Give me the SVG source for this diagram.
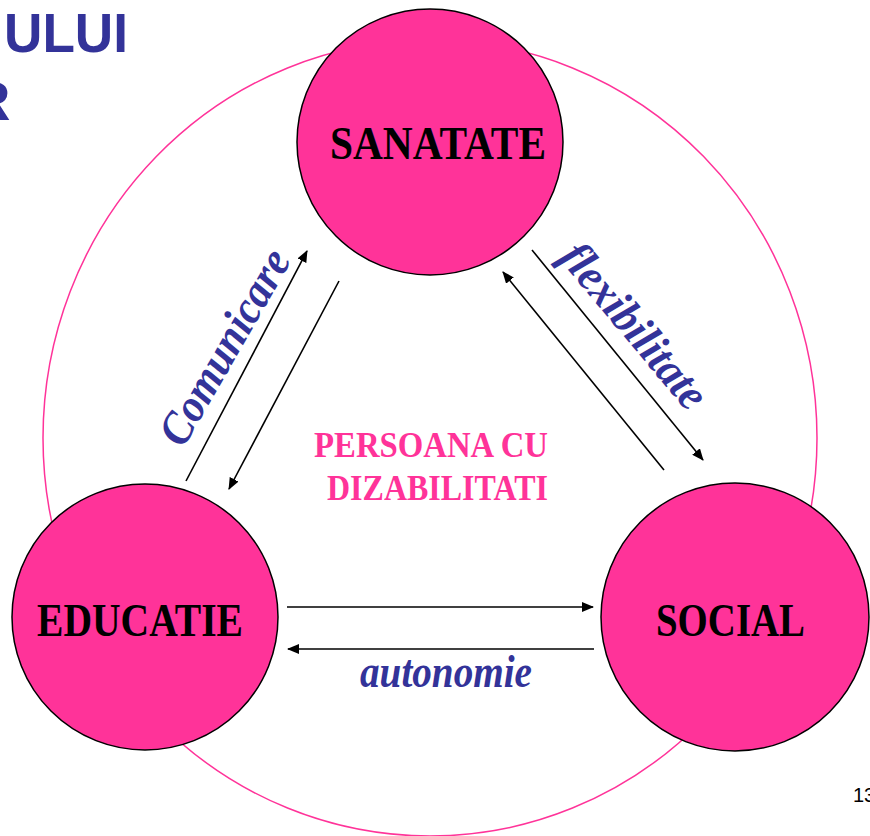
<svg xmlns="http://www.w3.org/2000/svg" width="870" height="836" viewBox="0 0 870 836">
  <defs>
    <marker id="ah" viewBox="0 0 12 10" refX="11" refY="5" markerWidth="12" markerHeight="10" markerUnits="userSpaceOnUse" orient="auto">
      <path d="M0,0 L12,5 L0,10 Z" fill="#000"/>
    </marker>
    <style>
      .node { fill: #FF3399; stroke: #000; stroke-width: 1.5; }
      .nlabel { font-family: "Liberation Serif", "Times New Roman", serif; font-weight: bold; font-size: 46px; fill: #000; }
      .conn { stroke: #000; stroke-width: 1.6; fill: none; marker-end: url(#ah); }
      .elabel { font-family: "Liberation Serif", "Times New Roman", serif; font-weight: bold; font-style: italic; font-size: 46px; fill: #333399; }
      .center { font-family: "Liberation Serif", "Times New Roman", serif; font-weight: bold; font-size: 35px; fill: #FF3399; }
      .title { font-family: "Liberation Sans", Arial, sans-serif; font-weight: bold; font-size: 56px; fill: #333399; }
    </style>
  </defs>
  <rect width="870" height="836" fill="#fff"/>

  <g id="title">
    <text class="title" x="4" y="52" textLength="124" lengthAdjust="spacingAndGlyphs">ULUI</text>
    <text class="title" x="-30" y="120">R</text>
  </g>

  <g id="outer-ring">
    <ellipse cx="430" cy="438" rx="387" ry="398" fill="none" stroke="#FF3399" stroke-width="1.5"/>
  </g>

  <g id="connectors">
    <line class="conn" x1="186" y1="481" x2="307" y2="251"/>
    <line class="conn" x1="339" y1="281" x2="229" y2="489"/>
    <line class="conn" x1="532" y1="250" x2="703" y2="460"/>
    <line class="conn" x1="664" y1="470" x2="503" y2="272"/>
    <line class="conn" x1="287" y1="607" x2="593" y2="607"/>
    <line class="conn" x1="594" y1="649" x2="288" y2="649"/>
    <text class="elabel" transform="translate(183,449) rotate(-60)" textLength="218" lengthAdjust="spacingAndGlyphs">Comunicare</text>
    <text class="elabel" transform="translate(558,258) rotate(50)" textLength="202" lengthAdjust="spacingAndGlyphs">flexibilitate</text>
    <text class="elabel" x="360" y="687" textLength="172" lengthAdjust="spacingAndGlyphs">autonomie</text>
  </g>

  <g id="node-sanatate">
    <circle class="node" cx="430" cy="142" r="133"/>
    <text class="nlabel" x="330" y="159" textLength="216" lengthAdjust="spacingAndGlyphs">SANATATE</text>
  </g>

  <g id="node-educatie">
    <circle class="node" cx="145" cy="617" r="133"/>
    <text class="nlabel" x="37" y="636" textLength="206" lengthAdjust="spacingAndGlyphs">EDUCATIE</text>
  </g>

  <g id="node-social">
    <circle class="node" cx="735" cy="617" r="134"/>
    <text class="nlabel" x="656" y="636" textLength="149" lengthAdjust="spacingAndGlyphs">SOCIAL</text>
  </g>

  <g id="center-label">
    <text class="center" x="314" y="457" textLength="234" lengthAdjust="spacingAndGlyphs">PERSOANA CU</text>
    <text class="center" x="327" y="500" textLength="221" lengthAdjust="spacingAndGlyphs">DIZABILITATI</text>
  </g>

  <g id="page-number">
    <text x="853" y="802" font-family="Liberation Sans, Arial, sans-serif" font-size="20" fill="#000">13</text>
  </g>
</svg>
